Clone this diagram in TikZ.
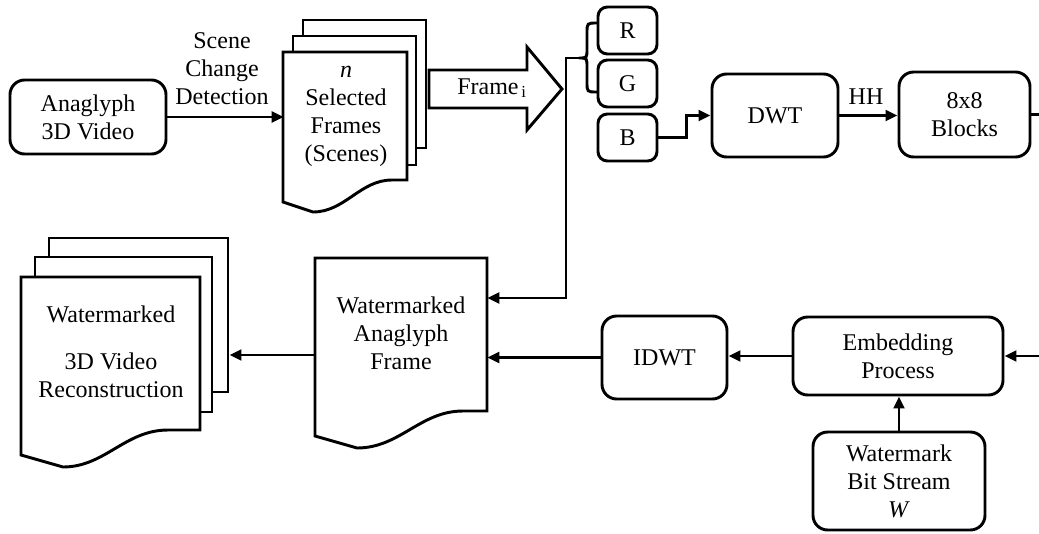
\documentclass[tikz,border=0pt]{standalone}
\usepackage{fontspec}
\setmainfont{Liberation Serif}
\usetikzlibrary{arrows.meta}
\begin{document}
\begin{tikzpicture}[x=0.75pt,y=-0.75pt,
  lw/.style={line width=2.2pt},
  box/.style={draw,lw,rounded corners=11pt,align=center,inner sep=0pt},
  small/.style={draw,lw,rounded corners=7pt,align=center,inner sep=0pt,minimum width=44.25pt,minimum height=35.25pt},
  txt/.style={align=center,inner sep=0pt},
  arr/.style={lw,-{Triangle[length=9pt,width=8pt]}},
  ln/.style={lw},
  sheet/.style={draw,lw,fill=white},
  every node/.style={font=\fontsize{18}{21}\selectfont}
]
\useasboundingbox (0,0) rectangle (1039,533);

% Anaglyph source
\node[box,minimum width=117pt,minimum height=55.5pt] (ana) at (88,117) {Anaglyph\\3D Video};

% Selected frames stack
\draw[sheet] (303,20) rectangle (426,148);
\draw[sheet] (293,36) rectangle (416,165);
\draw[sheet] (283,52) -- (407,52) -- (407,180) -- (392,180) .. controls (360,180) and (345,212) .. (313,212) -- (283,202) -- cycle;
\node[txt,minimum width=93pt,minimum height=96pt] (sel) at (346,116) {\textit{n}\\Selected\\Frames\\(Scenes)};

\node[txt] (scd) at (222,69) {Scene\\Change\\Detection};
\draw[arr] (ana.east) -- (sel.west |- ana.east);

% Block arrow Frame_i
\draw[lw] (429,70) -- (527,70) -- (527,47) -- (562,89) -- (527,130) -- (527,108) -- (429,108) -- cycle;
\node[txt] (fr) at (492,88) {Frame\textsubscript{\,i}};

% Brace
\draw[lw] (597,23) .. controls (587,23) .. (587,33) -- (587,49) .. controls (587,58) .. (579,58) .. controls (587,58) .. (587,67) -- (587,82) .. controls (587,92) .. (597,92);
\coordinate (bt) at (579,58);

% R G B
\node[small] (R) at (627.5,30.5) {R};
\node[small] (G) at (627.5,83.5) {G};
\node[small] (B) at (627.5,137.5) {B};

% Processing boxes
\node[box,minimum width=94.5pt,minimum height=62.25pt] (dwt) at (775,115.5) {DWT};
\node[box,minimum width=98.25pt,minimum height=63.75pt] (blk) at (964.5,114.5) {8x8\\Blocks};
\node[box,minimum width=157.5pt,minimum height=58.5pt] (emb) at (898,356) {Embedding\\Process};
\node[box,minimum width=93.75pt,minimum height=62.25pt] (idwt) at (664.5,357.5) {IDWT};
\node[box,minimum width=129pt,minimum height=73.5pt] (wm) at (899,481) {Watermark\\Bit Stream\\\textit{W}};

% Watermarked anaglyph frame
\draw[sheet] (315,258) -- (487,258) -- (487,411) -- (463,411) .. controls (420,411) and (400,448) .. (357,448) -- (315,436) -- cycle;
\node[txt,minimum width=129pt,minimum height=114.75pt] (waf) at (401,333) {Watermarked\\Anaglyph\\Frame};

% Watermarked video stack
\node[sheet,minimum width=134.25pt,minimum height=115.5pt,inner sep=0pt] (wvb) at (138.5,315) {};
\draw[sheet] (35,257) rectangle (212,412);
\draw[sheet] (21,277) -- (200,277) -- (200,430) -- (168,430) .. controls (125,430) and (105,467) .. (63,467) -- (21,455) -- cycle;
\node[txt,minimum width=134.25pt,minimum height=114.75pt] (wv) at (111,352) {Watermarked\\[14pt]3D Video\\Reconstruction};

% Connectors
\coordinate (j1) at (566,298);
\draw[arr] (bt) -- (566,58) -- (j1) -- (waf.east |- j1);
\draw[arr] (B.east) -- ++(28,0) |- (dwt.west);
\draw[arr] (dwt.east) -- (blk.west |- dwt.east);
\node[txt] (hh) at (866,97) {HH};
\coordinate (r1) at (1039,114.5);
\draw[ln] (blk.east) -- (r1);
\coordinate (r2) at (1039,356);
\draw[arr] (r2) -- (emb.east);
\draw[arr] (emb.west) -- (idwt.east |- emb.west);
\draw[arr] (wm.north) -- (wm.north |- emb.south);
\draw[arr] (idwt.west) -- (waf.east |- idwt.west);
\coordinate (j2) at (315,355);
\draw[arr] (waf.west |- j2) -- (wvb.east |- j2);
\end{tikzpicture}
\end{document}
